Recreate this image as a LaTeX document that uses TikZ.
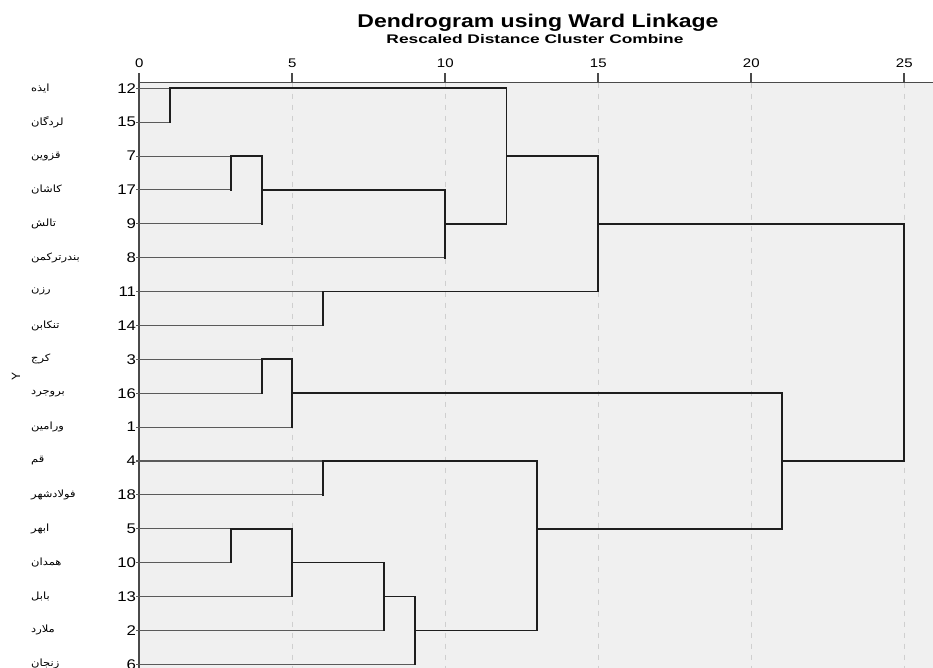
\documentclass[tikz,border=0pt]{standalone}
\usepackage{fontspec}
\usepackage{graphicx}
\setmainfont{Liberation Sans}
\newfontfamily\fa[Script=Arabic]{DejaVu Sans}
\TeXXeTstate=1
\definecolor{plotbg}{HTML}{F0F0F0}
\definecolor{gridc}{HTML}{CFCFCF}
\definecolor{leafc}{HTML}{5A5A5A}
\definecolor{linkc}{HTML}{1E1E1E}
\definecolor{axisc}{HTML}{4A4A4A}
\newcommand\wide[1]{\scalebox{1.2}[1]{#1}}
\tikzset{
  leaf/.style={draw=leafc, line width=1.1pt},
  link/.style={draw=linkc, line width=1.7pt, line cap=rect},
  gridline/.style={draw=gridc, line width=1.3pt, dash pattern=on 5pt off 6pt},
  axisline/.style={draw=axisc, line width=1.8pt},
  rownum/.style={anchor=east, inner sep=0pt, font=\fontsize{14}{14}\selectfont},
  ticknum/.style={anchor=base, inner sep=0pt, font=\fontsize{12.5}{12.5}\selectfont},
  falabel/.style={anchor=west, inner sep=0pt, font=\fa\fontsize{10}{10}\selectfont}
}
\begin{document}
\begin{tikzpicture}[x=1pt,y=1pt]
\useasboundingbox (0,0) rectangle (933,-668);
\fill[white] (0,0) rectangle (933,-668);
\fill[plotbg] (139.3,-82.3) rectangle (933,-668);
% title
\node[inner sep=0pt, anchor=base] (title) at (538,-28) {\resizebox{361pt}{\height}{\bfseries\fontsize{18.5}{20}\selectfont Dendrogram using Ward Linkage}};
\node[inner sep=0pt, anchor=base] (subtitle) at (535,-44) {\resizebox{297pt}{\height}{\bfseries\fontsize{12.5}{14}\selectfont Rescaled Distance Cluster Combine}};
\node[rotate=90, inner sep=0pt, font=\fontsize{12}{12}\selectfont] (ylab) at (16,-376) {Y};
\begin{scope}[shift={(139.3,-88.3)}, x=30.6pt, y=-33.88pt]
  % grid
  \foreach \v in {5,10,15,20,25} {
    \draw[gridline] (\v,-0.17) -- (\v,17.11);
  }
  % axes
  \draw[axisline] (0,-0.17) -- (25.94,-0.17);
  \draw[axisline] (0,-0.45) -- (0,17.11);
  \foreach \v in {0,5,10,15,20,25} {
    \draw[axisline] (\v,-0.45) -- (\v,-0.17);
    \node[ticknum] (t\v) at (\v,-0.62) {\wide{\v}};
  }
  % rows
  \foreach \r/\n/\m/\nm in {0/12/1/ایذه, 1/15/1/لردگان, 2/7/3/قزوین, 3/17/3/کاشان, 4/9/4/تالش, 5/8/10/بندرترکمن, 6/11/6/رزن, 7/14/6/تنکابن, 8/3/4/کرج, 9/16/4/بروجرد, 10/1/5/ورامین, 11/4/6/قم, 12/18/6/فولادشهر, 13/5/3/ابهر, 14/10/3/همدان, 15/13/5/بابل, 16/2/8/ملارد, 17/6/9/زنجان} {
    \node[rownum] (n\n) at (-0.1,\r) {\wide{\n}};
    \node[falabel] (p\n) at (-3.54,\r) {\scalebox{1.15}[1]{\beginR\nm\endR}};
    \coordinate (s\n) at (-0.1,\r);
    \coordinate (e\n) at (\m,\r);
    \draw[leaf] (s\n) -- (e\n);
  }
  % clusters
  \draw[link] (1,0) -- (1,1);   \draw[link] (1,0) -- (12,0);
  \draw[link] (3,2) -- (3,3);   \draw[link] (3,2) -- (4,2);
  \draw[link] (4,2) -- (4,4);   \draw[link] (4,3) -- (10,3);
  \draw[link] (10,3) -- (10,5); \draw[link] (10,4) -- (12,4);
  \draw[link] (12,0) -- (12,4); \draw[link] (12,2) -- (15,2);
  \draw[link] (6,6) -- (6,7);   \draw[link] (6,6) -- (15,6);
  \draw[link] (15,2) -- (15,6); \draw[link] (15,4) -- (25,4);
  \draw[link] (4,8) -- (4,9);   \draw[link] (4,8) -- (5,8);
  \draw[link] (5,8) -- (5,10);  \draw[link] (5,9) -- (21,9);
  \draw[link] (6,11) -- (6,12); \draw[link] (6,11) -- (13,11);
  \draw[link] (3,13) -- (3,14); \draw[link] (3,13) -- (5,13);
  \draw[link] (5,13) -- (5,15); \draw[link] (5,14) -- (8,14);
  \draw[link] (8,14) -- (8,16); \draw[link] (8,15) -- (9,15);
  \draw[link] (9,15) -- (9,17); \draw[link] (9,16) -- (13,16);
  \draw[link] (13,11) -- (13,16); \draw[link] (13,13) -- (21,13);
  \draw[link] (21,9) -- (21,13); \draw[link] (21,11) -- (25,11);
  \draw[link] (25,4) -- (25,11);
\end{scope}
\end{tikzpicture}
\end{document}
